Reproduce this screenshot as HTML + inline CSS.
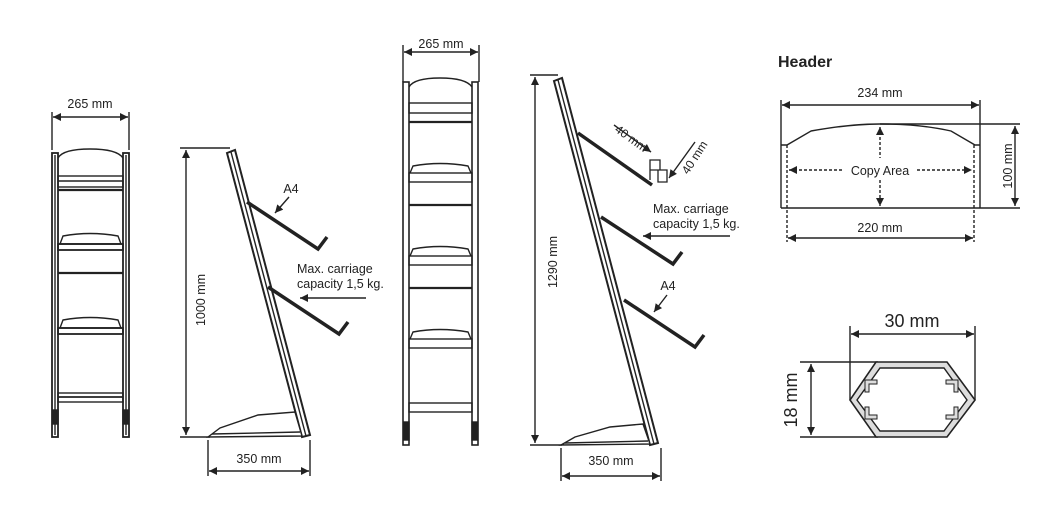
<!DOCTYPE html>
<html><head><style>body{margin:0;background:#fff}svg{display:block}</style></head><body>
<svg width="1064" height="514" viewBox="0 0 1064 514" xmlns="http://www.w3.org/2000/svg" font-family="Liberation Sans, sans-serif" fill="none" stroke="#222" stroke-width="1.4">
<defs>
<marker id="a" viewBox="0 0 10 10" refX="10" refY="5" markerWidth="11" markerHeight="8" orient="auto-start-reverse" markerUnits="userSpaceOnUse"><path d="M0,0L10,5L0,10z" fill="#222" stroke="none"/></marker>
</defs>

<!-- Front view 1 -->
<g>
<line x1="52" y1="112" x2="52" y2="150"/><line x1="129" y1="112" x2="129" y2="150"/>
<line x1="53" y1="117" x2="128" y2="117" marker-start="url(#a)" marker-end="url(#a)"/>
<text x="90" y="108" font-size="12.5" fill="#222" stroke="none" text-anchor="middle">265 mm</text>
<rect x="52" y="153" width="6" height="284" stroke-width="1.8"/><line x1="55" y1="155" x2="55" y2="435"/>
<rect x="123" y="153" width="6" height="284" stroke-width="1.8"/><line x1="126" y1="155" x2="126" y2="435"/>
<path d="M58,158 Q63,149 90,149 Q117,149 123,158"/>
<rect x="58" y="176" width="65" height="11"/><line x1="58" y1="181" x2="123" y2="181"/>
<line x1="58" y1="190" x2="123" y2="190" stroke-width="2.2"/>
<path d="M60,244 L63,236 Q90,231 118,236 L121,244 Z"/><rect x="58" y="244" width="65" height="6" stroke-width="1.8"/>
<line x1="58" y1="273" x2="123" y2="273" stroke-width="2.2"/>
<path d="M60,328 L63,320 Q90,315 118,320 L121,328 Z"/><rect x="58" y="328" width="65" height="6" stroke-width="1.8"/>
<rect x="58" y="393" width="65" height="9"/><line x1="58" y1="397" x2="123" y2="397" stroke-width="1.8"/>
<rect x="53" y="410" width="5" height="14" fill="#222"/><rect x="123" y="410" width="5" height="14" fill="#222"/>
</g>

<!-- Side view 1 -->
<g>
<line x1="180" y1="148" x2="230" y2="148"/><line x1="180" y1="437" x2="210" y2="437"/>
<line x1="186" y1="150" x2="186" y2="435" marker-start="url(#a)" marker-end="url(#a)"/>
<text transform="translate(205,300) rotate(-90)" font-size="12.5" fill="#222" stroke="none" text-anchor="middle">1000 mm</text>
<path d="M227,153 L235,150 L310,435 L302,437 Z" stroke-width="2"/><line x1="231" y1="152" x2="306" y2="436"/>
<path d="M208,437 L220,428 L258,415 L295,412 L302,436 Z" fill="#fff"/><line x1="212" y1="434" x2="300" y2="432"/>
<path d="M247,202 L318,249 L327,237" stroke-width="3.5" stroke-linejoin="miter"/>
<path d="M268,287 L339,334 L348,322" stroke-width="3.5"/>
<text x="291" y="193" font-size="12.5" fill="#222" stroke="none" text-anchor="middle">A4</text>
<line x1="289" y1="197" x2="275" y2="213" marker-end="url(#a)"/>
<text x="297" y="273" font-size="12.5" fill="#222" stroke="none">Max. carriage</text>
<text x="297" y="288" font-size="12.5" fill="#222" stroke="none">capacity 1,5 kg.</text>
<line x1="366" y1="298" x2="300" y2="298" marker-end="url(#a)"/>
<line x1="208" y1="440" x2="208" y2="476"/><line x1="310" y1="440" x2="310" y2="476"/>
<line x1="209" y1="471" x2="309" y2="471" marker-start="url(#a)" marker-end="url(#a)"/>
<text x="259" y="463" font-size="12.5" fill="#222" stroke="none" text-anchor="middle">350 mm</text>
</g>

<!-- Front view 2 -->
<g>
<line x1="403" y1="45" x2="403" y2="82"/><line x1="479" y1="45" x2="479" y2="82"/>
<line x1="404" y1="52" x2="478" y2="52" marker-start="url(#a)" marker-end="url(#a)"/>
<text x="441" y="48" font-size="12.5" fill="#222" stroke="none" text-anchor="middle">265 mm</text>
<rect x="403" y="82" width="6" height="363" stroke-width="1.6"/>
<rect x="472" y="82" width="6" height="363" stroke-width="1.6"/>
<path d="M409,87 Q414,78 440,78 Q466,78 472,87"/>
<rect x="409" y="103" width="63" height="10"/>
<line x1="409" y1="122" x2="472" y2="122" stroke-width="2.2"/>
<path d="M410,173 L413,166 Q440,161 468,166 L471,173"/><rect x="409" y="173" width="63" height="9"/>
<line x1="409" y1="205" x2="472" y2="205" stroke-width="2.2"/>
<path d="M410,256 L413,249 Q440,244 468,249 L471,256"/><rect x="409" y="256" width="63" height="9"/>
<line x1="409" y1="288" x2="472" y2="288" stroke-width="2.2"/>
<path d="M410,339 L413,332 Q440,327 468,332 L471,339"/><rect x="409" y="339" width="63" height="9"/>
<rect x="409" y="403" width="63" height="9"/>
<rect x="404" y="422" width="5" height="18" fill="#222"/><rect x="472" y="422" width="5" height="18" fill="#222"/>
</g>

<!-- Side view 2 -->
<g>
<line x1="530" y1="75" x2="558" y2="75"/><line x1="530" y1="445" x2="562" y2="445"/>
<line x1="535" y1="77" x2="535" y2="443" marker-start="url(#a)" marker-end="url(#a)"/>
<text transform="translate(557,262) rotate(-90)" font-size="12.5" fill="#222" stroke="none" text-anchor="middle">1290 mm</text>
<path d="M554,81 L562,78 L658,443 L650,445 Z" stroke-width="2"/><line x1="558" y1="80" x2="654" y2="444"/>
<path d="M561,445 L575,437 L610,427 L643,424 L650,444 Z" fill="#fff"/><line x1="565" y1="443" x2="648" y2="441"/>
<path d="M578,133 L652,185" stroke-width="3.5"/>
<path d="M650,160 h10 v10 h-10 z M658,170 h9 v12 h-9 z M650,170 v10" stroke-width="1.3"/>
<line x1="614" y1="125" x2="651" y2="152" marker-end="url(#a)"/>
<text transform="translate(614,131) rotate(36)" font-size="12" fill="#222" stroke="none">40 mm</text>
<line x1="695" y1="142" x2="669" y2="178" marker-end="url(#a)"/>
<text transform="translate(688,175) rotate(-57)" font-size="12" fill="#222" stroke="none">40 mm</text>
<path d="M601,217 L673,264 L682,252" stroke-width="3.5"/>
<path d="M624,300 L695,347 L704,335" stroke-width="3.5"/>
<text x="653" y="213" font-size="12.5" fill="#222" stroke="none">Max. carriage</text>
<text x="653" y="228" font-size="12.5" fill="#222" stroke="none">capacity 1,5 kg.</text>
<line x1="730" y1="236" x2="643" y2="236" marker-end="url(#a)"/>
<text x="668" y="290" font-size="12.5" fill="#222" stroke="none" text-anchor="middle">A4</text>
<line x1="667" y1="295" x2="654" y2="312" marker-end="url(#a)"/>
<line x1="561" y1="448" x2="561" y2="481"/><line x1="661" y1="448" x2="661" y2="481"/>
<line x1="562" y1="476" x2="660" y2="476" marker-start="url(#a)" marker-end="url(#a)"/>
<text x="611" y="465" font-size="12.5" fill="#222" stroke="none" text-anchor="middle">350 mm</text>
</g>

<!-- Header -->
<g>
<text x="778" y="67" font-size="16" font-weight="bold" fill="#222" stroke="none">Header</text>
<line x1="781" y1="100" x2="781" y2="208"/><line x1="980" y1="100" x2="980" y2="208"/>
<line x1="782" y1="105" x2="979" y2="105" marker-start="url(#a)" marker-end="url(#a)"/>
<text x="880" y="97" font-size="12.5" fill="#222" stroke="none" text-anchor="middle">234 mm</text>
<path d="M781,145 L787,145 L811,131 Q850,124 880,124 Q920,124 951,131 L975,145 L980,145"/>
<line x1="880" y1="124" x2="1020" y2="124"/>
<line x1="781" y1="208" x2="1020" y2="208"/>
<line x1="1015" y1="126" x2="1015" y2="206" marker-start="url(#a)" marker-end="url(#a)"/>
<text transform="translate(1012,166) rotate(-90)" font-size="12.5" fill="#222" stroke="none" text-anchor="middle">100 mm</text>
<g stroke-dasharray="3,2">
<line x1="787" y1="145" x2="787" y2="242"/><line x1="974" y1="145" x2="974" y2="242"/>
<line x1="880" y1="127" x2="880" y2="158" marker-start="url(#a)"/>
<line x1="880" y1="180" x2="880" y2="206" marker-end="url(#a)"/>
<line x1="789" y1="170" x2="843" y2="170" marker-start="url(#a)"/>
<line x1="917" y1="170" x2="972" y2="170" marker-end="url(#a)"/>
</g>
<text x="880" y="175" font-size="12.5" fill="#222" stroke="none" text-anchor="middle">Copy Area</text>
<line x1="788" y1="238" x2="973" y2="238" marker-start="url(#a)" marker-end="url(#a)"/>
<text x="880" y="232" font-size="12.5" fill="#222" stroke="none" text-anchor="middle">220 mm</text>
</g>

<!-- Profile -->
<g>
<text x="912" y="327" font-size="18" fill="#222" stroke="none" text-anchor="middle">30 mm</text>
<line x1="850" y1="326" x2="850" y2="400"/><line x1="975" y1="326" x2="975" y2="400"/>
<line x1="851" y1="334" x2="974" y2="334" marker-start="url(#a)" marker-end="url(#a)"/>
<line x1="800" y1="362" x2="878" y2="362"/><line x1="800" y1="437" x2="878" y2="437"/>
<line x1="811" y1="364" x2="811" y2="435" marker-start="url(#a)" marker-end="url(#a)"/>
<text transform="translate(797,400) rotate(-90)" font-size="18" fill="#222" stroke="none" text-anchor="middle">18 mm</text>
<path d="M876,362 L947,362 L975,400 L947,437 L876,437 L850,400 Z" fill="#ddd" stroke-width="1.6"/>
<path d="M880,368 L944,368 L967,400 L944,431 L880,431 L857,400 Z" fill="#fff" stroke-width="1.4"/>
<path d="M865,380 h12 v4 h-8 v8 h-4 z M958,380 h-12 v4 h8 v8 h4 z M865,419 h12 v-4 h-8 v-8 h-4 z M958,419 h-12 v-4 h8 v-8 h4 z" fill="#ddd" stroke-width="1"/>
</g>
</svg>
</body></html>
